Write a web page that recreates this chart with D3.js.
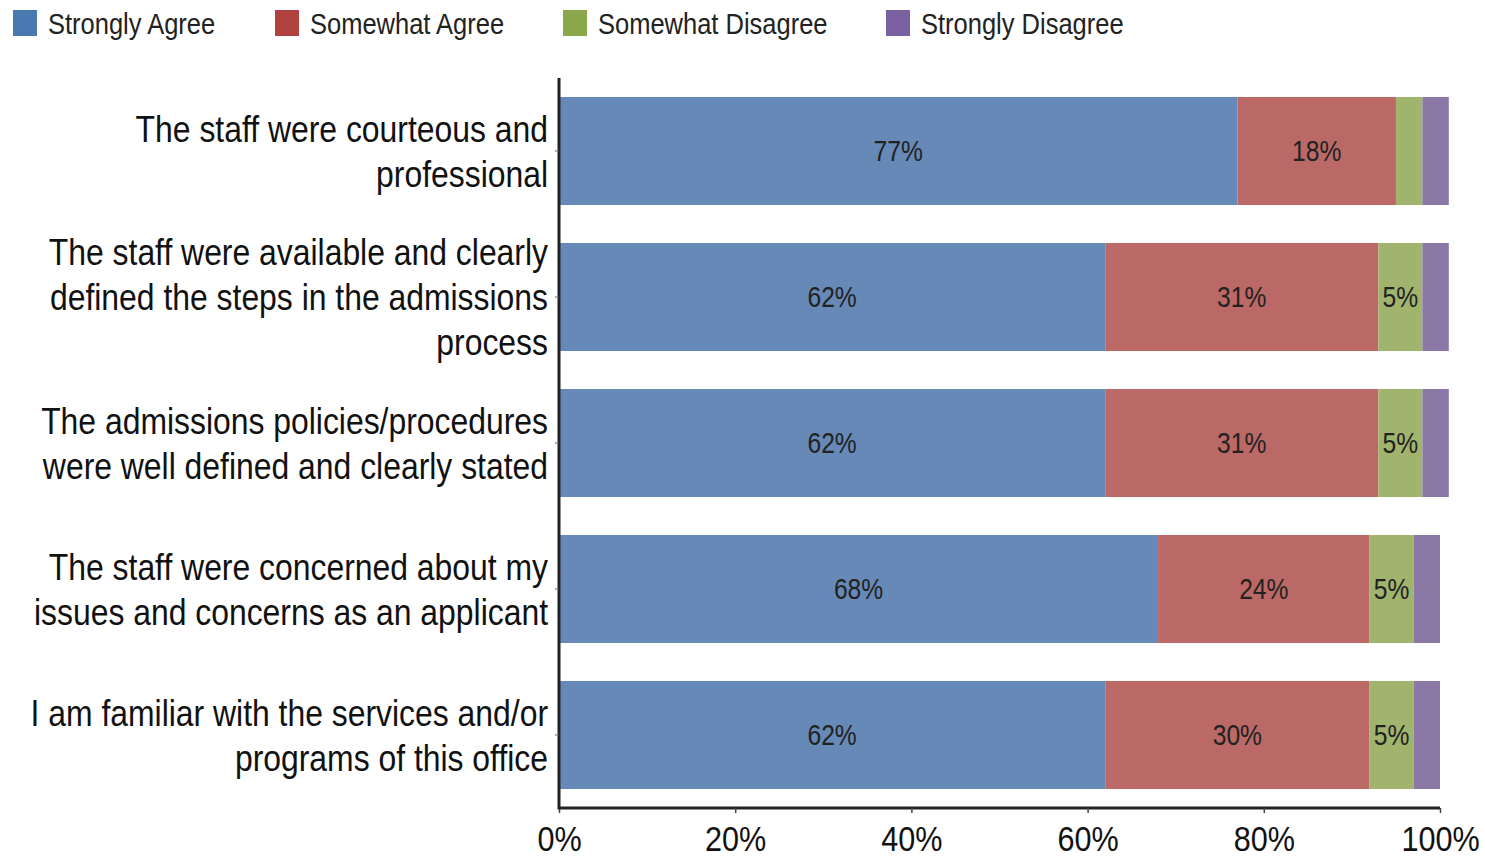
<!DOCTYPE html>
<html><head><meta charset="utf-8">
<script src="https://cdn.jsdelivr.net/npm/d3@7"></script>
<style>
html,body{margin:0;padding:0;background:#fff;}
svg{display:block;}
text{font-family:"Liberation Sans Narrow","Arial Narrow","Liberation Sans",Arial,sans-serif;fill:#111;}
</style></head>
<body>
<svg id="chart" width="1485" height="858"></svg>
<script>
const categories = [
  ["The staff were courteous and", "professional"],
  ["The staff were available and clearly", "defined the steps in the admissions", "process"],
  ["The admissions policies/procedures", "were well defined and clearly stated"],
  ["The staff were concerned about my", "issues and concerns as an applicant"],
  ["I am familiar with the services and/or", "programs of this office"]
];
const seriesNames = ["Strongly Agree", "Somewhat Agree", "Somewhat Disagree", "Strongly Disagree"];
const stronglyAgree    = [77, 62, 62, 68, 62];
const somewhatAgree    = [18, 31, 31, 24, 30];
const somewhatDisagree = [3, 5, 5, 5, 5];
const stronglyDisagree = [3, 3, 3, 3, 3];
const xTicks = [0, 20, 40, 60, 80, 100];
const barColors = ["#6689b8", "#bb6966", "#a0b46e", "#8b78a6"];
const legendColors = ["#4a78b0", "#b0433f", "#8aa84b", "#7a62a0"];

const SX = 0.85; // horizontal compression to mimic a narrow face
const svg = d3.select("#chart");
const mLeft = 559, mRight = 1440, mTop = 78, mBottom = 808;
const x = d3.scaleLinear().domain([0, 100]).range([mLeft, mRight]);
const y = d3.scaleBand().domain(d3.range(categories.length)).range([mTop, mBottom]).paddingInner(0.26).paddingOuter(0.13);

const series = [stronglyAgree, somewhatAgree, somewhatDisagree, stronglyDisagree];
const rows = categories.map((c, i) => {
  let acc = 0;
  return series.map((s, k) => { const seg = {i, k, x0: acc, x1: acc + s[i], v: s[i]}; acc += s[i]; return seg; });
});

const g = svg.append("g");
rows.forEach(r => {
  g.selectAll(null).data(r).enter().append("rect")
    .attr("x", d => x(d.x0)).attr("width", d => x(d.x1) - x(d.x0))
    .attr("y", d => y(d.i)).attr("height", y.bandwidth())
    .attr("fill", d => barColors[d.k]);
  g.selectAll(null).data(r.filter(d => d.v >= 5)).enter().append("text")
    .attr("transform", d => `translate(${x((d.x0 + d.x1) / 2)},${y(d.i) + y.bandwidth() / 2}) scale(${SX},1)`)
    .attr("dy", "0.36em").attr("text-anchor", "middle")
    .style("font-size", "29px").style("fill", "#222")
    .text(d => d.v + "%");
});

// axes
const xAxis = d3.axisBottom(x).tickValues(xTicks).tickFormat(d => d + "%").tickSize(5).tickPadding(12);
const xg = svg.append("g").attr("transform", `translate(0,${mBottom})`).call(xAxis);
xg.select(".domain").attr("stroke", "#222").attr("stroke-width", 3).attr("d", `M${mLeft},0H${mRight}`);
xg.selectAll(".tick line").attr("stroke", "#444").attr("stroke-width", 1.5);
xg.selectAll(".tick text").style("font-size", "36px").style("fill", "#111").attr("dy", "0.72em")
  .attr("transform", `scale(${SX},1)`);

svg.append("line").attr("x1", mLeft).attr("x2", mLeft).attr("y1", mTop).attr("y2", mBottom + 1.5)
  .attr("stroke", "#222").attr("stroke-width", 3);
svg.selectAll(null).data(d3.range(categories.length)).enter().append("line")
  .attr("x1", mLeft - 4).attr("x2", mLeft).attr("y1", i => y(i) + y.bandwidth() / 2).attr("y2", i => y(i) + y.bandwidth() / 2)
  .attr("stroke", "#666").attr("stroke-width", 1);

// category labels
const lineH = 45;
categories.forEach((lines, i) => {
  const cy = y(i) + y.bandwidth() / 2;
  const t = svg.append("text").attr("text-anchor", "end").style("font-size", "37px")
    .attr("transform", `translate(548,0) scale(0.862,1)`);
  lines.forEach((ln, j) => {
    t.append("tspan").attr("x", 0)
      .attr("y", cy + (j - (lines.length - 1) / 2) * lineH).attr("dy", "0.36em").text(ln);
  });
});

// legend
const legendX = [13, 275, 563, 886];
const lg = svg.selectAll(".leg").data(seriesNames).enter().append("g")
  .attr("transform", (d, k) => `translate(${legendX[k]},10)`);
lg.append("rect").attr("width", 24).attr("height", 26).attr("fill", (d, k) => legendColors[k]);
lg.append("text").attr("transform", `translate(35,13) scale(${SX},1)`).attr("dy", "0.36em")
  .style("font-size", "30px").style("fill", "#222").text(d => d);
</script>
</body></html>
